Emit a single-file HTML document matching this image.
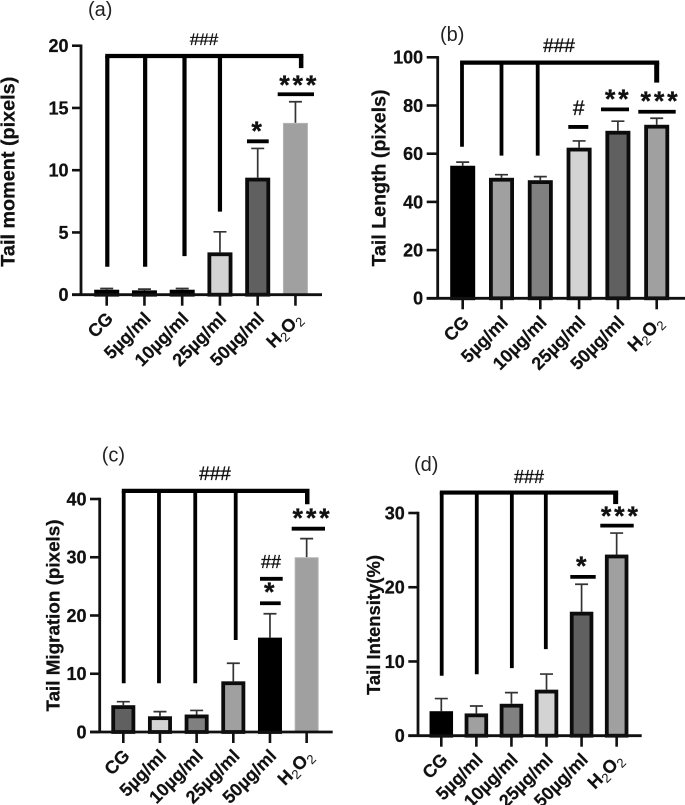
<!DOCTYPE html>
<html lang="en">
<head>
<meta charset="utf-8">
<title>Comet assay bar charts</title>
<style>
html,body{margin:0;padding:0;background:#fff;width:685px;height:805px;overflow:hidden}
svg{display:block;font-family:"Liberation Sans",sans-serif}
</style>
</head>
<body>
<svg id="figure" xmlns="http://www.w3.org/2000/svg" width="685" height="805" viewBox="0 0 685 805"></svg>
<script>
// ---- shared categories ----
const categories = ['CG', '5µg/ml', '10µg/ml', '25µg/ml', '50µg/ml', 'H2O2'];

// ---- panel (a) data ----
const aTicks = [0, 5, 10, 15, 20];
const aValues = [0.4, 0.35, 0.4, 3.4, 9.4, 13.8];
const aErrorTops = [0.5, 0.45, 0.5, 5.05, 11.75, 15.5];
const aFills = ['#000000', '#000000', '#000000', '#d3d3d3', '#606060', '#a0a0a0'];
const aBracketTop = 19.17;
const aBracketEnds = [2.25, 2.25, 3.1, 6.67];
const aBracketRightEnd = 18.2;
const aSigLevels = [12.32, 16.1];
const aSigMarks = ['*', '***'];

// ---- panel (b) data ----
const bTicks = [0, 20, 40, 60, 80, 100];
const bValues = [55, 50, 49, 62.5, 69.5, 72];
const bErrorTops = [56.5, 51.3, 50.5, 65.3, 73.5, 74.7];
const bFills = ['#000000', '#a0a0a0', '#808080', '#d3d3d3', '#606060', '#a0a0a0'];
const bBracketTop = 97.8;
const bBracketEnds = [62.9, 59.2, 59.2];
const bBracketRightEnd = 89.5;
const bSigLevels = [71.1, 78.4, 77.4];
const bSigMarks = ['#', '**', '***'];

// ---- panel (c) data ----
const cTicks = [0, 10, 20, 30, 40];
const cValues = [4.6, 2.7, 3, 8.7, 16.2, 30];
const cErrorTops = [5.2, 3.5, 3.7, 11.8, 20.3, 33.2];
const cFills = ['#606060', '#d3d3d3', '#808080', '#a0a0a0', '#000000', '#a0a0a0'];
const cBracketTop = 41.4;
const cBracketEnds = [8.36, 8.36, 8.36, 15.8];
const cBracketRightEnd = 39.1;
const cSigLevels = [22.1, 26.3, 34.9];
const cSigMarks = ['*', '##', '***'];

// ---- panel (d) data ----
const dTicks = [0, 10, 20, 30];
const dValues = [3.3, 3, 4.3, 6.2, 16.7, 24.4];
const dErrorTops = [5, 4, 5.8, 8.3, 20.4, 27.3];
const dFills = ['#000000', '#a0a0a0', '#808080', '#d3d3d3', '#606060', '#a0a0a0'];
const dBracketTop = 32.75;
const dBracketEnds = [8.08, 8.27, 9.1, 11.66];
const dBracketRightEnd = 31.2;
const dSigLevels = [21.4, 28.3];
const dSigMarks = ['*', '***'];

const NS = 'http://www.w3.org/2000/svg';
const svg = document.getElementById('figure');

function make(parent, tag, attrs, text) {
  const n = document.createElementNS(NS, tag);
  for (const k in attrs) n.setAttribute(k, attrs[k]);
  if (text !== undefined) n.textContent = text;
  parent.appendChild(n);
  return n;
}

const panels = [
  { id: 'a', label: '(a)', labelX: 88, labelY: 16,
    title: 'Tail moment (pixels)', titleX: 14.5, titleY: 171.7, titleLen: 190, titleSize: 19.6,
    axisX: 81, y0: 294.7, yTop: 45.7, yMax: 20, xLeft: 72, xRight: 322,
    catStart: 106.7, catStep: 37.75, barW: 25,
    ticks: aTicks, values: aValues, errs: aErrorTops, fills: aFills, plainLast: true,
    bracketTop: aBracketTop, ends: aBracketEnds, rightEnd: aBracketRightEnd,
    stemDx: [0.6, 0.7, 2.3, 0], rightDx: 5.7, stemW: 4.2, rightW: 4.5,
    hashX: 204, hashY: 45, hashSize: 17,
    sigLevels: aSigLevels, sigMarks: aSigMarks,
    sigSpans: [[247, 268.7], [277.7, 314]], sigText: [[258, 140, 27], [297.7, 94, 27]] },
  { id: 'b', label: '(b)', labelX: 440, labelY: 41,
    title: 'Tail Length (pixels)', titleX: 385.7, titleY: 178, titleLen: 177, titleSize: 19.2,
    axisX: 437.7, y0: 298.3, yTop: 57.3, yMax: 100, xLeft: 426.7, xRight: 685,
    catStart: 462.7, catStep: 38.8, barW: 25,
    ticks: bTicks, values: bValues, errs: bErrorTops, fills: bFills, plainLast: false,
    bracketTop: bBracketTop, ends: bBracketEnds, rightEnd: bBracketRightEnd,
    stemDx: [-0.7, 0, -2.6], rightDx: 0, stemW: 3.8, rightW: 5,
    hashX: 559, hashY: 52, hashSize: 19,
    sigLevels: bSigLevels, sigMarks: bSigMarks,
    sigSpans: [[568.3, 588.3], [601, 629], [638.3, 675.7]], sigText: [[578.7, 115, 21], [616.7, 108, 27], [659, 110, 27]] },
  { id: 'c', label: '(c)', labelX: 101.7, labelY: 461.7,
    title: 'Tail Migration (pixels)', titleX: 59.3, titleY: 615.5, titleLen: 192, titleSize: 18.3,
    axisX: 99.7, y0: 732, yTop: 499, yMax: 40, xLeft: 90, xRight: 332.7,
    catStart: 123.3, catStep: 36.67, barW: 24,
    ticks: cTicks, values: cValues, errs: cErrorTops, fills: cFills, plainLast: true,
    bracketTop: cBracketTop, ends: cBracketEnds, rightEnd: cBracketRightEnd,
    stemDx: [0.4, -1, -1.4, 2.4], rightDx: 0.6, stemW: 3.8, rightW: 4.5,
    hashX: 215, hashY: 480, hashSize: 19,
    sigLevels: cSigLevels, sigMarks: cSigMarks,
    sigSpans: [[260, 280.7], [260, 282.7], [291.7, 325]], sigText: [[270.7, 601, 27], [271, 568, 18], [311, 527, 27]] },
  { id: 'd', label: '(d)', labelX: 414, labelY: 471,
    title: 'Tail Intensity(%)', titleX: 380, titleY: 625, titleLen: 140, titleSize: 18.2,
    axisX: 418, y0: 735.7, yTop: 513, yMax: 30, xLeft: 408.3, xRight: 641.7,
    catStart: 441.3, catStep: 35.07, barW: 23.5,
    ticks: dTicks, values: dValues, errs: dErrorTops, fills: dFills, plainLast: false,
    bracketTop: dBracketTop, ends: dBracketEnds, rightEnd: dBracketRightEnd,
    stemDx: [0.4, 0.4, 0.4, -0.7], rightDx: -1, stemW: 3.8, rightW: 5,
    hashX: 529, hashY: 483, hashSize: 18,
    sigLevels: dSigLevels, sigMarks: dSigMarks,
    sigSpans: [[570.3, 595.7], [600.3, 633.7]], sigText: [[582.7, 575, 27], [619.3, 525, 27]] }
];

panels.forEach(function (p) {
  const yOf = function (v) { return p.y0 - (v / p.yMax) * (p.y0 - p.yTop); };
  const xOf = function (i) { return p.catStart + i * p.catStep; };

  const g = make(svg, 'g', {});
  
  

  const lab = make(g, 'text', { x: p.labelX, y: p.labelY, 'font-size': 20, fill: '#222' }, p.label);
  
  

  const title = make(g, 'text', {
    transform: 'translate(' + p.titleX + ',' + p.titleY + ') rotate(-90)',
    'text-anchor': 'middle', 'font-size': p.titleSize, 'font-weight': 'bold', fill: '#111',
    stroke: '#111', 'stroke-width': 0.25,
    textLength: p.titleLen, lengthAdjust: 'spacingAndGlyphs'
  }, p.title);
  
  

  // bars and error bars
  p.values.forEach(function (v, i) {
    const cx = xOf(i);
    const top = yOf(p.errs[i]);
    const barTop = yOf(v);
    const eb = make(g, 'path', {
      d: 'M' + cx + ' ' + barTop + 'V' + top + 'M' + (cx - 6.5) + ' ' + top + 'H' + (cx + 6.5),
      stroke: '#333', 'stroke-width': 1.7, fill: 'none'
    });
    
    

    const plain = p.plainLast && p.fills[i] === '#a0a0a0' && i === 5;
    const sw = plain ? 1 : 3.8;
    const rect = make(g, 'rect', {
      x: cx - p.barW / 2 + sw / 2, y: barTop + sw / 2,
      width: p.barW - sw, height: Math.max(0.1, p.y0 - barTop - sw / 2),
      fill: p.fills[i], stroke: plain ? '#b4b4b4' : (p.fills[i] === '#000000' ? '#000' : '#0c0c0c'), 'stroke-width': sw
    });
    
    
  });

  // axes
  const yAxis = make(g, 'line', { x1: p.axisX, x2: p.axisX, y1: p.yTop - 1.2, y2: p.y0 + 1, stroke: '#111', 'stroke-width': 2.8 });
  
  

  const xAxis = make(g, 'line', { x1: p.xLeft, x2: p.xRight, y1: p.y0, y2: p.y0, stroke: '#111', 'stroke-width': 2.8 });
  
  

  p.ticks.forEach(function (t) {
    const y = yOf(t);
    const tk = make(g, 'line', { x1: p.xLeft, x2: p.axisX, y1: y, y2: y, stroke: '#111', 'stroke-width': 2.6 });
    
    

    const tl = make(g, 'text', { x: p.xLeft - 3.5, y: y + 6.4, 'text-anchor': 'end', 'font-size': 18, 'font-weight': 'bold', fill: '#111', stroke: '#111', 'stroke-width': 0.25 }, String(t));
    
    
  });

  categories.forEach(function (c, i) {
    const x = xOf(i);
    const tk = make(g, 'line', { x1: x, x2: x, y1: p.y0, y2: p.y0 + 11, stroke: '#111', 'stroke-width': 2.6 });
    
    

    const tl = make(g, 'text', {
      transform: 'translate(' + (x + 7.5) + ',' + (p.y0 + 25) + ') rotate(-45)',
      'text-anchor': 'end', 'font-size': 18, 'font-weight': 'bold', fill: '#111', stroke: '#111', 'stroke-width': 0.2
    });
    
    
    if (c === 'H2O2') {
      make(tl, 'tspan', {}, 'H');
      make(tl, 'tspan', { 'font-size': 13, 'font-weight': 'normal', 'stroke-width': 0, dy: 4 }, '2');
      make(tl, 'tspan', { dy: -4 }, 'O');
      make(tl, 'tspan', { 'font-size': 13, 'font-weight': 'normal', 'stroke-width': 0, dy: 4 }, '2');
    } else {
      tl.textContent = c;
    }
  });

  // significance bracket
  const yB = yOf(p.bracketTop);
  const rightX = xOf(5) + p.rightDx;
  const firstX = xOf(0) + p.stemDx[0];
  const top = make(g, 'line', { x1: firstX - p.stemW / 2, x2: rightX + p.rightW / 2, y1: yB, y2: yB, stroke: '#000', 'stroke-width': 4.2 });
  
  

  p.ends.forEach(function (e, i) {
    const sx = xOf(i) + p.stemDx[i];
    const st = make(g, 'line', { x1: sx, x2: sx, y1: yB, y2: yOf(e), stroke: '#000', 'stroke-width': p.stemW });
    
    
  });

  const rs = make(g, 'line', { x1: rightX, x2: rightX, y1: yB, y2: yOf(p.rightEnd), stroke: '#000', 'stroke-width': p.rightW });
  
  

  const hash = make(g, 'text', { x: p.hashX, y: p.hashY, 'text-anchor': 'middle', 'font-size': p.hashSize, fill: '#111', stroke: '#111', 'stroke-width': 0.35 }, '###');
  
  

  // significance marks
  p.sigLevels.forEach(function (lv, i) {
    const span = p.sigSpans[i];
    const y = yOf(lv);
    const bar = make(g, 'line', { x1: span[0], x2: span[1], y1: y, y2: y, stroke: '#000', 'stroke-width': 3.8 });
    
    

    const mark = p.sigMarks[i];
    const st = p.sigText[i];
    const isStar = mark.charAt(0) === '*';
    const t = make(g, 'text', {
      x: st[0] + (isStar && mark.length > 1 ? 1.5 : 0), y: st[1], 'text-anchor': 'middle', 'font-size': st[2],
      'font-weight': isStar ? 'bold' : 'normal', fill: '#111', stroke: '#111', 'stroke-width': isStar ? 0.3 : 0.35
    }, mark);
    if (isStar) t.setAttribute('letter-spacing', '2.8');
    
    
  });
});
</script>
</body>
</html>
